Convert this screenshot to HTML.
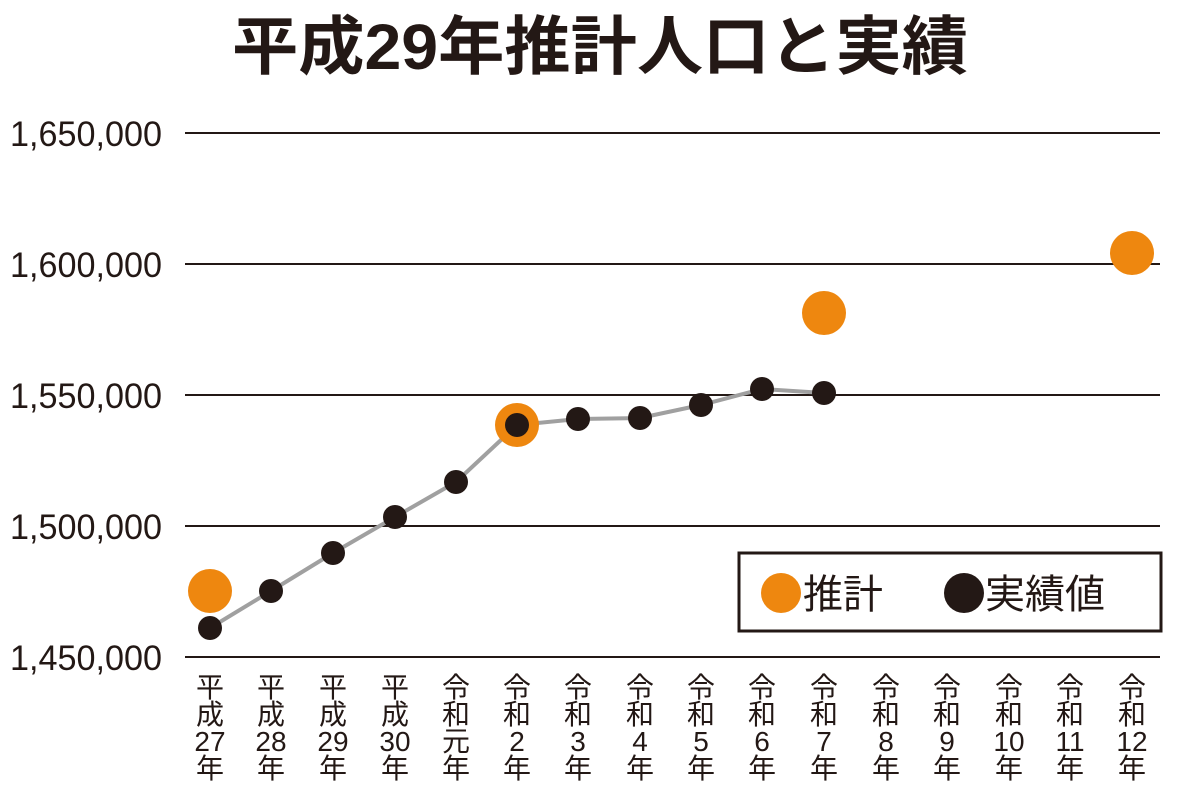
<!DOCTYPE html>
<html><head><meta charset="utf-8"><style>
html,body{margin:0;padding:0;background:#fff;}
svg{display:block;}
text{font-family:"Liberation Sans","Noto Sans CJK JP",sans-serif;fill:#231815;}
</style></head><body>
<svg width="1200" height="786" viewBox="0 0 1200 786" xmlns="http://www.w3.org/2000/svg">
<text x="232" y="69" font-size="64" font-weight="bold" textLength="736" lengthAdjust="spacingAndGlyphs">平成29年推計人口と実績</text>
<g stroke="#231815" stroke-width="2">
<line x1="185" y1="133" x2="1160" y2="133"/>
<line x1="185" y1="264" x2="1160" y2="264"/>
<line x1="185" y1="395" x2="1160" y2="395"/>
<line x1="185" y1="526" x2="1160" y2="526"/>
<line x1="185" y1="657" x2="1160" y2="657"/>
</g>
<g font-size="35">
<text x="10" y="146" textLength="152" lengthAdjust="spacingAndGlyphs">1,650,000</text>
<text x="10" y="277" textLength="152" lengthAdjust="spacingAndGlyphs">1,600,000</text>
<text x="10" y="408" textLength="152" lengthAdjust="spacingAndGlyphs">1,550,000</text>
<text x="10" y="539" textLength="152" lengthAdjust="spacingAndGlyphs">1,500,000</text>
<text x="10" y="670" textLength="152" lengthAdjust="spacingAndGlyphs">1,450,000</text>
</g>
<polyline fill="none" stroke="#a0a0a0" stroke-width="4" points="210,628 271,591 333,553 395,517 456,482 517,425 578,419 640,418 701,405 762,389 824,393"/>
<g fill="#ee870f">
<circle cx="210" cy="591" r="22"/>
<circle cx="517" cy="425" r="22"/>
<circle cx="824" cy="313" r="22"/>
<circle cx="1132" cy="253" r="22"/>
</g>
<g fill="#231815">
<circle cx="210" cy="628" r="12"/><circle cx="271" cy="591" r="12"/><circle cx="333" cy="553" r="12"/><circle cx="395" cy="517" r="12"/><circle cx="456" cy="482" r="12"/><circle cx="517" cy="425" r="12"/><circle cx="578" cy="419" r="12"/><circle cx="640" cy="418" r="12"/><circle cx="701" cy="405" r="12"/><circle cx="762" cy="389" r="12"/><circle cx="824" cy="393" r="12"/>
</g>
<g font-size="28" text-anchor="middle">
<text x="210" y="697">平</text><text x="210" y="724">成</text><text x="210" y="751">27</text><text x="210" y="778">年</text>
<text x="271" y="697">平</text><text x="271" y="724">成</text><text x="271" y="751">28</text><text x="271" y="778">年</text>
<text x="333" y="697">平</text><text x="333" y="724">成</text><text x="333" y="751">29</text><text x="333" y="778">年</text>
<text x="395" y="697">平</text><text x="395" y="724">成</text><text x="395" y="751">30</text><text x="395" y="778">年</text>
<text x="456" y="697">令</text><text x="456" y="724">和</text><text x="456" y="751">元</text><text x="456" y="778">年</text>
<text x="517" y="697">令</text><text x="517" y="724">和</text><text x="517" y="751">2</text><text x="517" y="778">年</text>
<text x="578" y="697">令</text><text x="578" y="724">和</text><text x="578" y="751">3</text><text x="578" y="778">年</text>
<text x="640" y="697">令</text><text x="640" y="724">和</text><text x="640" y="751">4</text><text x="640" y="778">年</text>
<text x="701" y="697">令</text><text x="701" y="724">和</text><text x="701" y="751">5</text><text x="701" y="778">年</text>
<text x="762" y="697">令</text><text x="762" y="724">和</text><text x="762" y="751">6</text><text x="762" y="778">年</text>
<text x="824" y="697">令</text><text x="824" y="724">和</text><text x="824" y="751">7</text><text x="824" y="778">年</text>
<text x="886" y="697">令</text><text x="886" y="724">和</text><text x="886" y="751">8</text><text x="886" y="778">年</text>
<text x="947" y="697">令</text><text x="947" y="724">和</text><text x="947" y="751">9</text><text x="947" y="778">年</text>
<text x="1009" y="697">令</text><text x="1009" y="724">和</text><text x="1009" y="751">10</text><text x="1009" y="778">年</text>
<text x="1070" y="697">令</text><text x="1070" y="724">和</text><text x="1070" y="751">11</text><text x="1070" y="778">年</text>
<text x="1132" y="697">令</text><text x="1132" y="724">和</text><text x="1132" y="751">12</text><text x="1132" y="778">年</text>
</g>
<rect x="739" y="553" width="422" height="78" fill="#fff" stroke="#231815" stroke-width="3"/>
<circle cx="781" cy="593" r="20" fill="#ee870f"/>
<text x="803" y="608" font-size="40">推計</text>
<circle cx="964" cy="593" r="20" fill="#231815"/>
<text x="985" y="608" font-size="40">実績値</text>
</svg>
</body></html>
